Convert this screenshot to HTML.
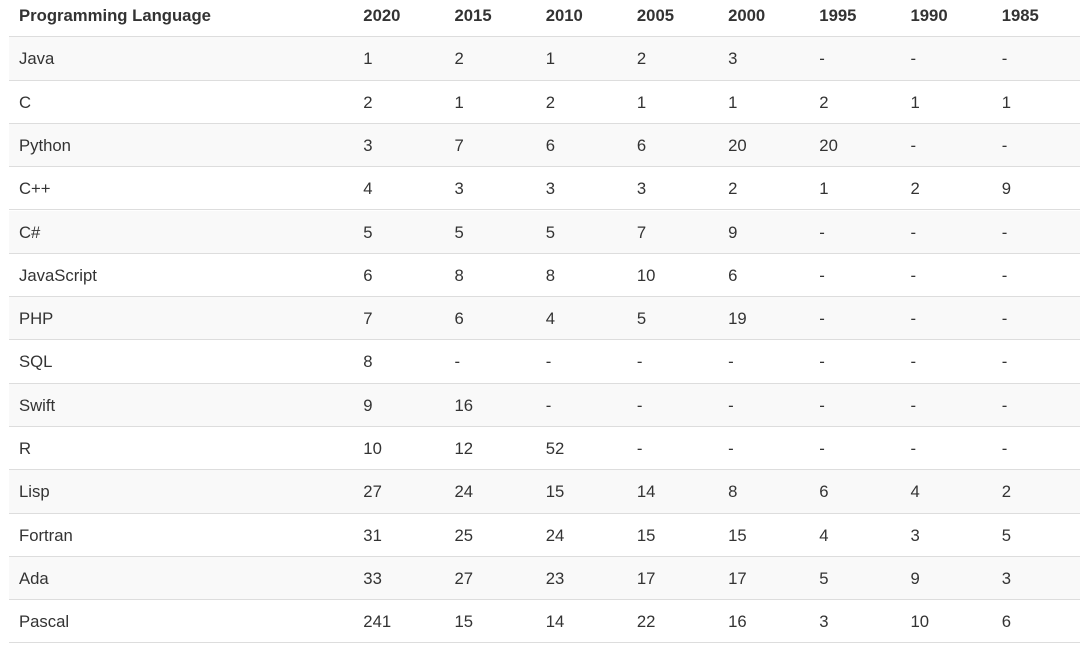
<!DOCTYPE html>
<html>
<head>
<meta charset="utf-8">
<style>
  html, body { margin:0; padding:0; }
  body { width:1080px; height:654px; background:#fff; position:relative; overflow:hidden;
         font-family:"Liberation Sans", Arial, sans-serif; font-size:16.7px; color:#333; }
  .hdr { position:absolute; left:9px; right:0; top:0; height:38px; border-bottom:2px solid #ddd; box-sizing:border-box; font-weight:bold; }
  .row { position:absolute; left:9px; right:0; height:43.3px; border-bottom:1px solid #ddd; box-sizing:border-box; }
  .row.s { background:#f9f9f9; }
  .c { position:absolute; top:0; white-space:nowrap; }
  .hdr .c { line-height:31px; }
  .row .c { line-height:43px; }
</style>
</head>
<body>
<div class="hdr">
  <span class="c" style="left:10px">Programming Language</span>
  <span class="c" style="left:354.3px">2020</span>
  <span class="c" style="left:445.5px">2015</span>
  <span class="c" style="left:536.7px">2010</span>
  <span class="c" style="left:627.9px">2005</span>
  <span class="c" style="left:719.1px">2000</span>
  <span class="c" style="left:810.3px">1995</span>
  <span class="c" style="left:901.5px">1990</span>
  <span class="c" style="left:992.7px">1985</span>
</div>

<div class="row s" style="top:37.3px">
  <span class="c" style="left:10px">Java</span>
  <span class="c" style="left:354.3px">1</span><span class="c" style="left:445.5px">2</span><span class="c" style="left:536.7px">1</span><span class="c" style="left:627.9px">2</span><span class="c" style="left:719.1px">3</span><span class="c" style="left:810.3px">-</span><span class="c" style="left:901.5px">-</span><span class="c" style="left:992.7px">-</span>
</div>
<div class="row" style="top:80.6px">
  <span class="c" style="left:10px">C</span>
  <span class="c" style="left:354.3px">2</span><span class="c" style="left:445.5px">1</span><span class="c" style="left:536.7px">2</span><span class="c" style="left:627.9px">1</span><span class="c" style="left:719.1px">1</span><span class="c" style="left:810.3px">2</span><span class="c" style="left:901.5px">1</span><span class="c" style="left:992.7px">1</span>
</div>
<div class="row s" style="top:123.9px">
  <span class="c" style="left:10px">Python</span>
  <span class="c" style="left:354.3px">3</span><span class="c" style="left:445.5px">7</span><span class="c" style="left:536.7px">6</span><span class="c" style="left:627.9px">6</span><span class="c" style="left:719.1px">20</span><span class="c" style="left:810.3px">20</span><span class="c" style="left:901.5px">-</span><span class="c" style="left:992.7px">-</span>
</div>
<div class="row" style="top:167.2px">
  <span class="c" style="left:10px">C++</span>
  <span class="c" style="left:354.3px">4</span><span class="c" style="left:445.5px">3</span><span class="c" style="left:536.7px">3</span><span class="c" style="left:627.9px">3</span><span class="c" style="left:719.1px">2</span><span class="c" style="left:810.3px">1</span><span class="c" style="left:901.5px">2</span><span class="c" style="left:992.7px">9</span>
</div>
<div class="row s" style="top:210.5px">
  <span class="c" style="left:10px">C#</span>
  <span class="c" style="left:354.3px">5</span><span class="c" style="left:445.5px">5</span><span class="c" style="left:536.7px">5</span><span class="c" style="left:627.9px">7</span><span class="c" style="left:719.1px">9</span><span class="c" style="left:810.3px">-</span><span class="c" style="left:901.5px">-</span><span class="c" style="left:992.7px">-</span>
</div>
<div class="row" style="top:253.8px">
  <span class="c" style="left:10px">JavaScript</span>
  <span class="c" style="left:354.3px">6</span><span class="c" style="left:445.5px">8</span><span class="c" style="left:536.7px">8</span><span class="c" style="left:627.9px">10</span><span class="c" style="left:719.1px">6</span><span class="c" style="left:810.3px">-</span><span class="c" style="left:901.5px">-</span><span class="c" style="left:992.7px">-</span>
</div>
<div class="row s" style="top:297.1px">
  <span class="c" style="left:10px">PHP</span>
  <span class="c" style="left:354.3px">7</span><span class="c" style="left:445.5px">6</span><span class="c" style="left:536.7px">4</span><span class="c" style="left:627.9px">5</span><span class="c" style="left:719.1px">19</span><span class="c" style="left:810.3px">-</span><span class="c" style="left:901.5px">-</span><span class="c" style="left:992.7px">-</span>
</div>
<div class="row" style="top:340.4px">
  <span class="c" style="left:10px">SQL</span>
  <span class="c" style="left:354.3px">8</span><span class="c" style="left:445.5px">-</span><span class="c" style="left:536.7px">-</span><span class="c" style="left:627.9px">-</span><span class="c" style="left:719.1px">-</span><span class="c" style="left:810.3px">-</span><span class="c" style="left:901.5px">-</span><span class="c" style="left:992.7px">-</span>
</div>
<div class="row s" style="top:383.7px">
  <span class="c" style="left:10px">Swift</span>
  <span class="c" style="left:354.3px">9</span><span class="c" style="left:445.5px">16</span><span class="c" style="left:536.7px">-</span><span class="c" style="left:627.9px">-</span><span class="c" style="left:719.1px">-</span><span class="c" style="left:810.3px">-</span><span class="c" style="left:901.5px">-</span><span class="c" style="left:992.7px">-</span>
</div>
<div class="row" style="top:427px">
  <span class="c" style="left:10px">R</span>
  <span class="c" style="left:354.3px">10</span><span class="c" style="left:445.5px">12</span><span class="c" style="left:536.7px">52</span><span class="c" style="left:627.9px">-</span><span class="c" style="left:719.1px">-</span><span class="c" style="left:810.3px">-</span><span class="c" style="left:901.5px">-</span><span class="c" style="left:992.7px">-</span>
</div>
<div class="row s" style="top:470.3px">
  <span class="c" style="left:10px">Lisp</span>
  <span class="c" style="left:354.3px">27</span><span class="c" style="left:445.5px">24</span><span class="c" style="left:536.7px">15</span><span class="c" style="left:627.9px">14</span><span class="c" style="left:719.1px">8</span><span class="c" style="left:810.3px">6</span><span class="c" style="left:901.5px">4</span><span class="c" style="left:992.7px">2</span>
</div>
<div class="row" style="top:513.6px">
  <span class="c" style="left:10px">Fortran</span>
  <span class="c" style="left:354.3px">31</span><span class="c" style="left:445.5px">25</span><span class="c" style="left:536.7px">24</span><span class="c" style="left:627.9px">15</span><span class="c" style="left:719.1px">15</span><span class="c" style="left:810.3px">4</span><span class="c" style="left:901.5px">3</span><span class="c" style="left:992.7px">5</span>
</div>
<div class="row s" style="top:556.9px">
  <span class="c" style="left:10px">Ada</span>
  <span class="c" style="left:354.3px">33</span><span class="c" style="left:445.5px">27</span><span class="c" style="left:536.7px">23</span><span class="c" style="left:627.9px">17</span><span class="c" style="left:719.1px">17</span><span class="c" style="left:810.3px">5</span><span class="c" style="left:901.5px">9</span><span class="c" style="left:992.7px">3</span>
</div>
<div class="row" style="top:600.2px">
  <span class="c" style="left:10px">Pascal</span>
  <span class="c" style="left:354.3px">241</span><span class="c" style="left:445.5px">15</span><span class="c" style="left:536.7px">14</span><span class="c" style="left:627.9px">22</span><span class="c" style="left:719.1px">16</span><span class="c" style="left:810.3px">3</span><span class="c" style="left:901.5px">10</span><span class="c" style="left:992.7px">6</span>
</div>
</body>
</html>
